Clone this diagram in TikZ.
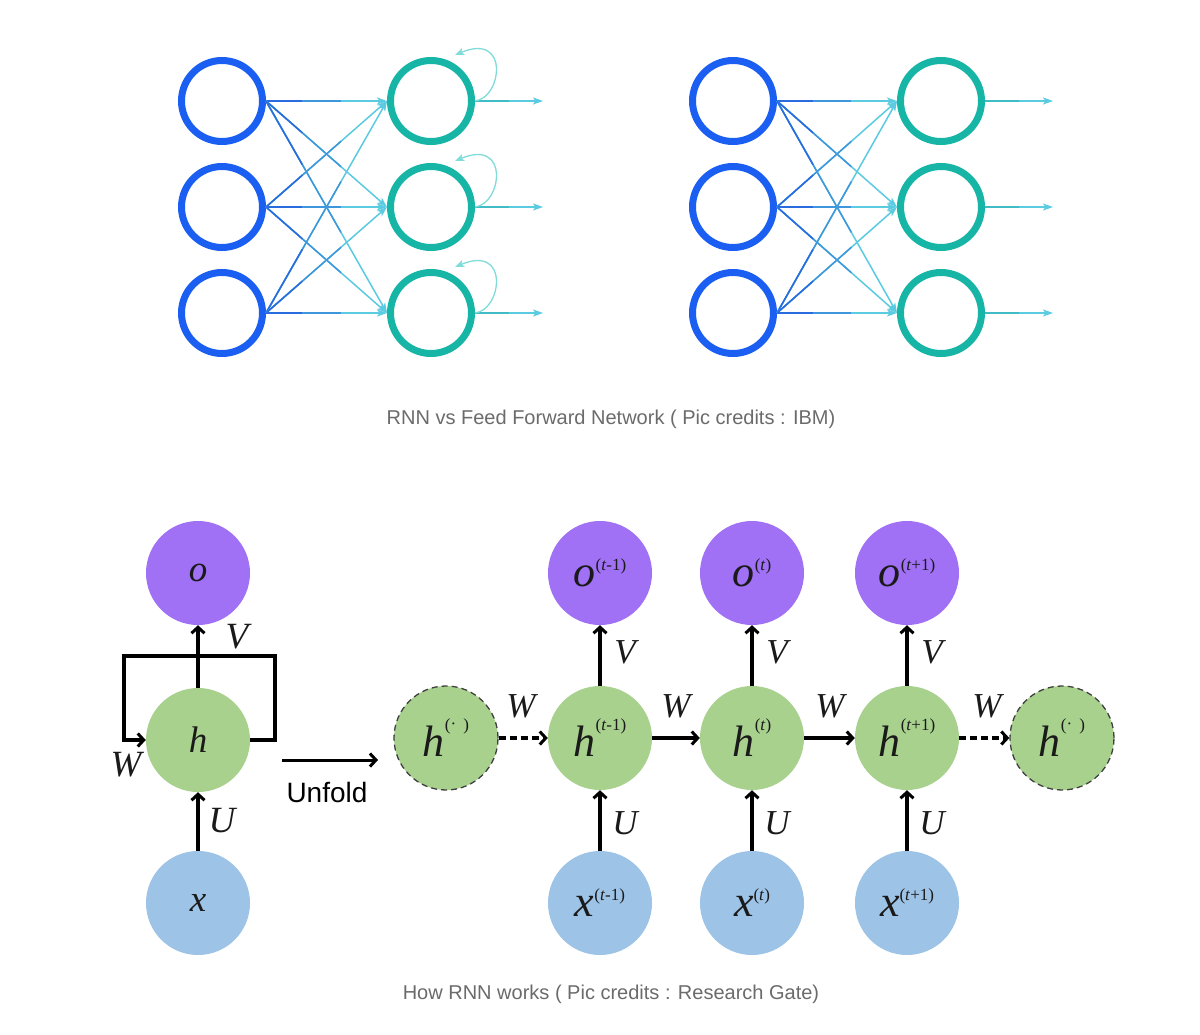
\documentclass[tikz,border=0pt]{standalone}
\usepackage{fontspec}
\setmainfont{Liberation Serif}
\newfontfamily\capfont{Liberation Sans}
\usetikzlibrary{arrows.meta,calc}
\definecolor{inblue}{HTML}{1B5FF2}
\definecolor{outteal}{HTML}{17B5A6}
\definecolor{lnA}{HTML}{2A6BE0}
\definecolor{lnB}{HTML}{3E97DC}
\definecolor{lnC}{HTML}{5ACBE0}
\definecolor{outA}{HTML}{3FBCC4}
\definecolor{loopc}{HTML}{80DCDA}
\definecolor{capgray}{HTML}{6B6B6B}
\definecolor{opurple}{HTML}{A070F5}
\definecolor{hgreen}{HTML}{A9D18E}
\definecolor{xblue}{HTML}{9DC3E6}
\definecolor{labc}{HTML}{1A1A1A}
\newcommand\glab[3]{\textit{#1}\raisebox{#2}{\fontsize{17}{17}\selectfont #3}}
\begin{document}
\begin{tikzpicture}[x=1pt,y=-1pt,
  innode/.style={circle,draw=inblue,line width=7pt,minimum size=81pt,inner sep=0pt},
  outnode/.style={circle,draw=outteal,line width=7pt,minimum size=81pt,inner sep=0pt},
  ffline/.style={line width=1.5pt},
  fftip/.style={-{Stealth[length=10pt,width=7pt,inset=2.5pt,color=lnC]}},
  looparrow/.style={line width=1.3pt,loopc,-{Stealth[length=9pt,width=7pt,inset=2pt]}},
  bignode/.style={circle,minimum size=104pt,inner sep=0pt,text=labc,font=\fontsize{44}{44}\selectfont},
  smallnode/.style={circle,minimum size=104pt,inner sep=0pt,text=labc,font=\fontsize{37}{37}\selectfont\itshape},
  hdash/.style={draw=black!75,line width=1.3pt,dash pattern=on 6pt off 4pt},
  blk/.style={line width=3.5pt,-{Straight Barb[length=6pt,width=13pt,line width=3pt]}},
  blkdash/.style={blk,dash pattern=on 7pt off 4pt},
  wlab/.style={text=labc,font=\fontsize{35}{35}\selectfont\itshape,inner sep=0pt},
  wlabL/.style={text=labc,font=\fontsize{37}{37}\selectfont\itshape,inner sep=0pt},
  capstyle/.style={text=capgray,font=\capfont\fontsize{20}{24}\selectfont,inner sep=0pt,anchor=base}
]
\fill[white] (0,0) rectangle (1200,1035);
\useasboundingbox (0,0) rectangle (1200,1035);

% ---------- top: RNN ----------
\foreach \i/\y in {1/101,2/207,3/313}{
  \node[innode] (a\i) at (222,\y) {};
  \node[outnode] (b\i) at (431,\y) {};
  \node[innode] (c\i) at (733,\y) {};
  \node[outnode] (d\i) at (941,\y) {};
  \coordinate (be\i) at (543,\y);
  \coordinate (de\i) at (1053,\y);
  \coordinate (bl\i) at (455,\y-46);
}
\foreach \i in {1,2,3}{
  \foreach \j in {1,2,3}{
    \draw[ffline,lnC,fftip] (a\i.east) -- (b\j.west);
    \draw[ffline,lnB] (a\i.east) -- ($(a\i.east)!0.62!(b\j.west)$);
    \draw[ffline,lnA] (a\i.east) -- ($(a\i.east)!0.3!(b\j.west)$);
    \draw[ffline,lnC,fftip] (c\i.east) -- (d\j.west);
    \draw[ffline,lnB] (c\i.east) -- ($(c\i.east)!0.62!(d\j.west)$);
    \draw[ffline,lnA] (c\i.east) -- ($(c\i.east)!0.3!(d\j.west)$);
  }
  \draw[ffline,lnC,fftip] (b\i.east) -- (be\i);
  \draw[ffline,outA] (b\i.east) -- ($(b\i.east)!0.5!(be\i)$);
  \draw[ffline,lnC,fftip] (d\i.east) -- (de\i);
  \draw[ffline,outA] (d\i.east) -- ($(d\i.east)!0.5!(de\i)$);
  \draw[looparrow] (b\i.east) .. controls +(27,-3) and +(55,-23) .. (bl\i);
}
\node[capstyle] (cap1) at (611,424) {RNN vs Feed Forward Network ( Pic credits : IBM)};

% ---------- bottom left: folded RNN ----------
\node[smallnode,fill=opurple] (o0) at (198,573) {o};
\node[smallnode,fill=hgreen] (h0) at (198,740) {h};
\node[smallnode,fill=xblue] (x0) at (198,903) {x};
\draw[blk] (h0.north) -- (o0.south);
\draw[blk] (x0.north) -- (h0.south);
\coordinate (br) at (275,656);
\coordinate (bl) at (124,656);
\draw[blk] (h0.east) -| (br) -- (bl) |- (h0.west);
\node[wlabL] (lv0) at (237,637) {V};
\node[wlabL] (lw0) at (126,765) {W};
\node[wlabL] (lu0) at (222,821) {U};

\coordinate (u1) at (282,760);
\coordinate (u2) at (378,760);
\draw[blk,line width=3pt] (u1) -- (u2);
\node[anchor=base,inner sep=0pt,font=\capfont\fontsize{28}{28}\selectfont] (unf) at (327,802) {Unfold};

% ---------- bottom right: unfolded ----------
\node[bignode,fill=hgreen,hdash] (hL) at (446,738) {\glab{h}{26pt}{(\raisebox{1pt}{·}\ \,)}};
\node[bignode,fill=hgreen] (h1) at (600,738) {\glab{h}{26pt}{(\textit{t}-1)}};
\node[bignode,fill=hgreen] (h2) at (752,738) {\glab{h}{26pt}{(\textit{t})}};
\node[bignode,fill=hgreen] (h3) at (907,738) {\glab{h}{26pt}{(\textit{t}+1)}};
\node[bignode,fill=hgreen,hdash] (hR) at (1062,738) {\glab{h}{26pt}{(\raisebox{1pt}{·}\ \,)}};
\node[bignode,fill=opurple] (o1) at (600,573) {\glab{o}{16pt}{(\textit{t}-1)}};
\node[bignode,fill=opurple] (o2) at (752,573) {\glab{o}{16pt}{(\textit{t})}};
\node[bignode,fill=opurple] (o3) at (907,573) {\glab{o}{16pt}{(\textit{t}+1)}};
\node[bignode,fill=xblue] (x1) at (600,903) {\glab{x}{16pt}{(\textit{t}-1)}};
\node[bignode,fill=xblue] (x2) at (752,903) {\glab{x}{16pt}{(\textit{t})}};
\node[bignode,fill=xblue] (x3) at (907,903) {\glab{x}{16pt}{(\textit{t}+1)}};

\draw[blkdash] (hL.east) -- (h1.west);
\draw[blk] (h1.east) -- (h2.west);
\draw[blk] (h2.east) -- (h3.west);
\draw[blkdash] (h3.east) -- (hR.west);
\foreach \i/\x in {1/600,2/752,3/907}{
  \draw[blk] (h\i.north) -- (o\i.south);
  \draw[blk] (x\i.north) -- (h\i.south);
  \node[wlab] (v\i) at (\x+25,652) {V};
  \node[wlab] (uu\i) at (\x+25,823) {U};
}
\node[wlab] (w1) at (521,706) {W};
\node[wlab] (w2) at (676,706) {W};
\node[wlab] (w3) at (830,706) {W};
\node[wlab] (w4) at (987,706) {W};

\node[capstyle] (cap2) at (611,999) {How RNN works ( Pic credits : Research Gate)};
\end{tikzpicture}
\end{document}
